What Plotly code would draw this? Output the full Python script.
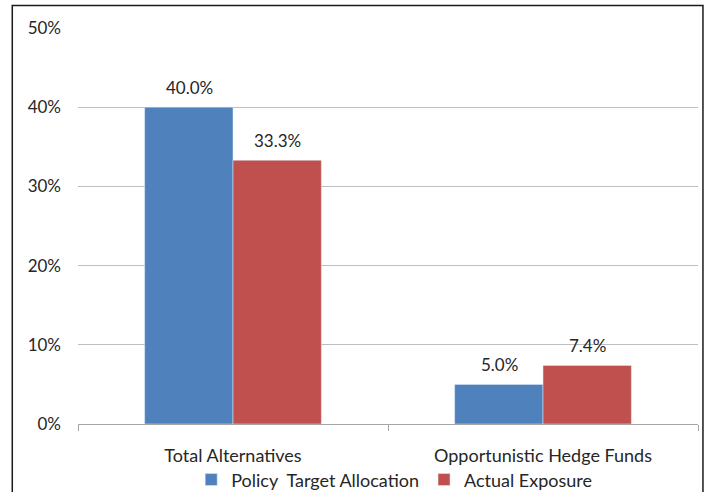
import plotly.graph_objects as go

categories = ["Total Alternatives", "Opportunistic Hedge Funds"]
policy_target = [40.0, 5.0]
actual_exposure = [33.3, 7.4]
y_ticks = [0, 10, 20, 30, 40, 50]

font = "Lato, 'Open Sans', sans-serif"

fig = go.Figure()
fig.add_trace(go.Bar(
    name="Policy  Target Allocation",
    x=categories,
    y=policy_target,
    marker_color="#4f81bd",
))
fig.add_trace(go.Bar(
    name="Actual Exposure",
    x=categories,
    y=actual_exposure,
    marker_color="#c0504d",
))

# value labels above the bars
labels = []
for series, shift in ((policy_target, -44), (actual_exposure, 44)):
    for cat, v in zip(categories, series):
        labels.append(dict(
            x=cat, y=v, xref="x", yref="y",
            text=f"{v:.1f}%", showarrow=False,
            xshift=shift, yshift=7, yanchor="bottom",
            font=dict(size=17),
        ))

fig.update_layout(
    width=706,
    height=492,
    margin=dict(l=78, r=8, t=28, b=68, autoexpand=False),
    barmode="group",
    bargap=0.43,
    bargroupgap=0,
    plot_bgcolor="white",
    paper_bgcolor="white",
    font=dict(family=font, size=17, color="#262626"),
    annotations=labels,
    legend=dict(
        orientation="h",
        x=0.51, xanchor="center",
        y=-0.141, yanchor="middle",
        font=dict(size=18),
        bgcolor="rgba(0,0,0,0)",
        itemwidth=30,
        traceorder="normal",
    ),
    shapes=[dict(
        type="rect", xref="paper", yref="paper",
        x0=-0.106, x1=1.008, y0=-0.3, y1=1.057,
        line=dict(color="#1a1a1a", width=1.5),
    )],
)

fig.update_xaxes(
    automargin=False,
    showline=True, linecolor="#a6a6a6",
    ticks="outside", tickson="boundaries", ticklen=6, tickcolor="#a6a6a6",
    showgrid=False, ticklabelstandoff=15,
    tickfont=dict(size=18),
)
fig.update_yaxes(
    automargin=False,
    range=[0, 50],
    tickvals=y_ticks,
    ticktext=[f"{t}%" for t in y_ticks],
    showgrid=True, gridcolor="#bfbfbf", gridwidth=1,
    showline=False, zeroline=False,
    ticks="", ticklabelstandoff=16,
)

# drop the page's default body margin so the figure fills the window
fig.write_html(
    "out.html",
    config={"displayModeBar": False},
    post_script="document.body.style.margin='0';",
)
